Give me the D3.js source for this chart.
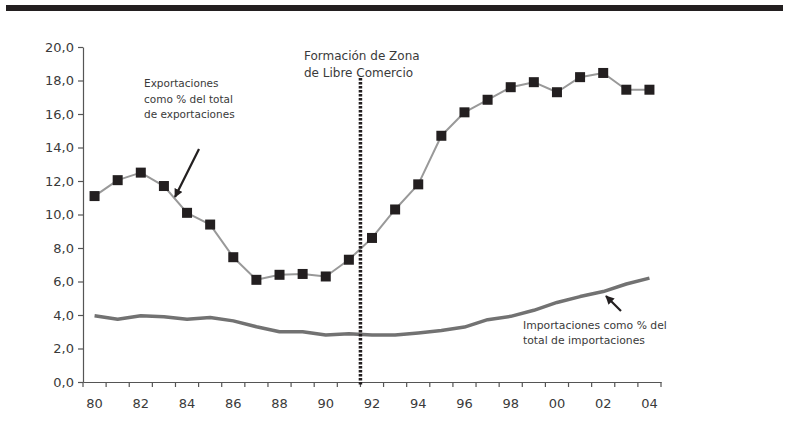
<!DOCTYPE html>
<html>
<head>
<meta charset="utf-8">
<script src="https://cdn.jsdelivr.net/npm/d3@7"></script>
<style>
  body { margin: 0; background: #fff; overflow: hidden; }
  svg { display: block; }
  text { font-family: "DejaVu Sans", sans-serif; }
</style>
</head>
<body>
<div id="chart"></div>
<script>
// years 1980-2004, only every other one gets a label
const years = ["80","81","82","83","84","85","86","87","88","89","90","91","92",
               "93","94","95","96","97","98","99","00","01","02","03","04"];
const exportaciones = [11.1, 12.05, 12.5, 11.7, 10.1, 9.4, 7.45, 6.1, 6.4, 6.45, 6.3, 7.3, 8.6,
                       10.3, 11.8, 14.7, 16.1, 16.85, 17.6, 17.9, 17.3, 18.2, 18.45, 17.45, 17.45];
const importaciones = [3.95, 3.75, 3.95, 3.9, 3.75, 3.85, 3.65, 3.3, 3.0, 3.0, 2.8, 2.88, 2.8,
                       2.8, 2.93, 3.08, 3.28, 3.72, 3.92, 4.28, 4.75, 5.1, 5.4, 5.85, 6.2];
const yTicks = [0, 2, 4, 6, 8, 10, 12, 14, 16, 18, 20];

const width = 785;
const height = 428;
const margin = {top: 47, right: 124, bottom: 46, left: 83};

const x = d3.scaleBand()
    .domain(years)
    .range([margin.left, width - margin.right]);

const y = d3.scaleLinear()
    .domain([0, 20])
    .range([height - margin.bottom, margin.top]);

const cx = d => x(d) + x.bandwidth() / 2;
const fmt = v => v.toFixed(1).replace('.', ',');

const svg = d3.select('#chart').append('svg')
    .attr('width', width)
    .attr('height', height);

// black bar along the top
svg.append('rect')
    .attr('x', 6).attr('y', 5)
    .attr('width', width - 8).attr('height', 6)
    .attr('fill', '#231f20');

// axes
const xAxis = g => g
    .attr('transform', `translate(0,${height - margin.bottom})`)
    .call(d3.axisBottom(x).tickSize(0).tickFormat((d, i) => i % 2 === 0 ? d : ''))
    .call(g => g.select('.domain').attr('stroke', '#555').attr('stroke-width', 1.2))
    .call(g => g.selectAll('.tick text').attr('dy', '1.75em').attr('font-size', 13).attr('fill', '#3a3a3a'))
    .call(g => g.selectAll('.sep')
        .data(d3.range(years.length + 1))
        .join('line')
        .attr('class', 'sep')
        .attr('x1', i => margin.left + i * x.step())
        .attr('x2', i => margin.left + i * x.step())
        .attr('y1', 0).attr('y2', 5)
        .attr('stroke', '#555').attr('stroke-width', 1.2));

const yAxis = g => g
    .attr('transform', `translate(${margin.left},0)`)
    .call(d3.axisLeft(y).tickValues(yTicks).tickSize(5).tickSizeOuter(0).tickFormat(fmt))
    .call(g => g.select('.domain').attr('stroke', '#555').attr('stroke-width', 1.2))
    .call(g => g.selectAll('.tick line').attr('stroke', '#555').attr('stroke-width', 1.2))
    .call(g => g.selectAll('.tick text').attr('x', -9).attr('font-size', 13).attr('fill', '#3a3a3a'));

svg.append('g').call(xAxis);
svg.append('g').call(yAxis);

// imports line
const line = d3.line()
    .x((d, i) => cx(years[i]))
    .y(d => y(d));

svg.append('path')
    .datum(importaciones)
    .attr('fill', 'none')
    .attr('stroke', '#727272')
    .attr('stroke-width', 3.5)
    .attr('stroke-linejoin', 'round')
    .attr('d', line);

// exports line + markers
svg.append('path')
    .datum(exportaciones)
    .attr('fill', 'none')
    .attr('stroke', '#999')
    .attr('stroke-width', 2)
    .attr('stroke-linejoin', 'round')
    .attr('d', line);

svg.append('g')
    .selectAll('rect')
    .data(exportaciones)
    .join('rect')
    .attr('x', (d, i) => cx(years[i]) - 5)
    .attr('y', d => y(d) - 5)
    .attr('width', 10)
    .attr('height', 10)
    .attr('fill', '#231f20');

// dotted line between 91 and 92
const xLine = x('92');
svg.append('line')
    .attr('x1', xLine).attr('x2', xLine)
    .attr('y1', 78).attr('y2', y(0) + 4)
    .attr('stroke', '#231f20')
    .attr('stroke-width', 3.5)
    .attr('stroke-dasharray', '2.5,1.5');

// annotations
function label(lines, tx, ty, size, lh) {
    const t = svg.append('text')
        .attr('x', tx).attr('y', ty)
        .attr('font-size', size)
        .attr('fill', '#3a3a3a');
    lines.forEach((s, i) => {
        t.append('tspan').attr('x', tx).attr('dy', i === 0 ? 0 : lh).text(s);
    });
}

label(['Formación de Zona', 'de Libre Comercio'], 304, 60, 12, 17);
label(['Exportaciones', 'como % del total', 'de exportaciones'], 144, 87, 10.5, 15.5);
label(['Importaciones como % del', 'total de importaciones'], 523, 329, 10.8, 15);

svg.append('defs').append('marker')
    .attr('id', 'arrow')
    .attr('viewBox', '0 0 10 10')
    .attr('refX', 9).attr('refY', 5)
    .attr('markerWidth', 4).attr('markerHeight', 4)
    .attr('markerUnits', 'strokeWidth')
    .attr('orient', 'auto')
    .append('path')
    .attr('d', 'M0,0 L10,5 L0,10 z')
    .attr('fill', '#231f20');

function arrow(x1, y1, x2, y2) {
    svg.append('line')
        .attr('x1', x1).attr('y1', y1)
        .attr('x2', x2).attr('y2', y2)
        .attr('stroke', '#231f20')
        .attr('stroke-width', 2.2)
        .attr('marker-end', 'url(#arrow)');
}

arrow(199, 149, 175, 197);
arrow(621, 311, 606, 296);
</script>
</body>
</html>
